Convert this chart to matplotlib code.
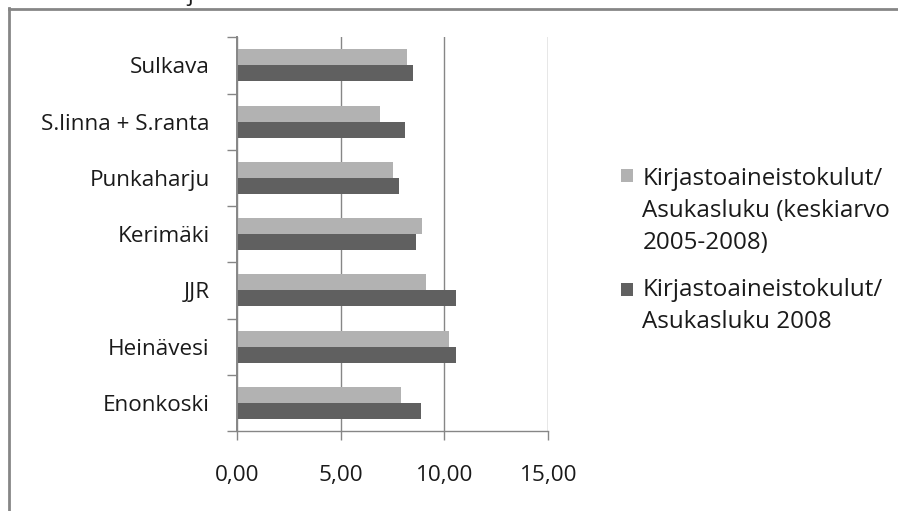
import matplotlib
matplotlib.use("Agg")
import matplotlib.pyplot as plt
from matplotlib.patches import Rectangle
from matplotlib.ticker import FuncFormatter, FixedLocator
import numpy as np

plt.rcParams['font.family'] = ['Open Sans', 'DejaVu Sans']

categories = ["Enonkoski", "Heinävesi", "JJR", "Kerimäki", "Punkaharju",
              "S.linna + S.ranta", "Sulkava"]
avg_2005_2008 = [7.93, 10.24, 9.09, 8.94, 7.50, 6.92, 8.22]
val_2008 = [8.89, 10.58, 10.58, 8.65, 7.79, 8.08, 8.51]
series_labels = [["Kirjastoaineistokulut/", "Asukasluku (keskiarvo", "2005-2008)"],
                 ["Kirjastoaineistokulut/", "Asukasluku 2008"]]
xticks = [0, 5, 10, 15]

light = "#b2b2b2"
dark = "#606060"
gray = "#868686"
txt = "#1a1a1a"

W, H = 898, 511
fig = plt.figure(figsize=(W / 100, H / 100), dpi=100)
ax = fig.add_axes([236.7 / W, 1 - 431 / H, (548.3 - 236.7) / W, (431 - 37.3) / H])

y = np.arange(len(categories))
h = 0.2857
ax.barh(y + h / 2, avg_2005_2008, height=h, color=light, zorder=3)
ax.barh(y - h / 2, val_2008, height=h, color=dark, zorder=3)

ax.set_xlim(0, 15)
ax.set_ylim(-0.5, len(categories) - 0.5)
ax.set_xticks(xticks)
ax.xaxis.set_major_formatter(FuncFormatter(lambda v, p: f"{v:.2f}".replace(".", ",")))
ax.set_yticks(y)
ax.set_yticklabels(categories)
ax.yaxis.set_minor_locator(FixedLocator(np.arange(-0.5, len(categories), 1.0)))

ax.tick_params(axis='y', which='major', length=0, pad=19.5, labelsize=16.2, labelcolor=txt)
ax.tick_params(axis='y', which='minor', length=7.2, width=1, color=gray, direction='out')
ax.tick_params(axis='x', which='major', length=6.5, width=1, color=gray, direction='out',
               pad=18.3, labelsize=16.2, labelcolor=txt)

for s in ['top', 'right']:
    ax.spines[s].set_visible(False)
ax.spines['bottom'].set_color(gray)
ax.spines['bottom'].set_linewidth(1)
ax.spines['left'].set_color(gray)
ax.spines['left'].set_linewidth(1.4)
ax.spines['left'].set_zorder(4)

ax.xaxis.grid(True, color=gray, linewidth=1)
ax.set_axisbelow(True)

# outer chart frame (partially visible)
fig.add_artist(plt.Line2D([8.5 / W, 8.5 / W], [0, 1 - 8.5 / H], transform=fig.transFigure,
                          color=gray, linewidth=2))
fig.add_artist(plt.Line2D([8.5 / W, 1], [1 - 9.5 / H, 1 - 9.5 / H], transform=fig.transFigure,
                          color=gray, linewidth=2))
fig.text(190 / W, 1 - 0.5 / H, "j", fontsize=16.2, ha='center', va='baseline', color=txt)

# legend
entries = [(light, series_labels[0], 169, [175.7, 208, 240]),
           (dark, series_labels[1], 282.7, [287, 318.5])]
for col, lines, top, ys in entries:
    fig.add_artist(Rectangle((620.7 / W, 1 - (top + 13) / H), 12.6 / W, 13 / H,
                             transform=fig.transFigure, facecolor=col, edgecolor='none'))
    for line, yy in zip(lines, ys):
        fig.text(642.5 / W, 1 - yy / H, line, fontsize=17.4, ha='left', va='center_baseline',
                 color=txt)

fig.savefig("out.png", dpi=100)
